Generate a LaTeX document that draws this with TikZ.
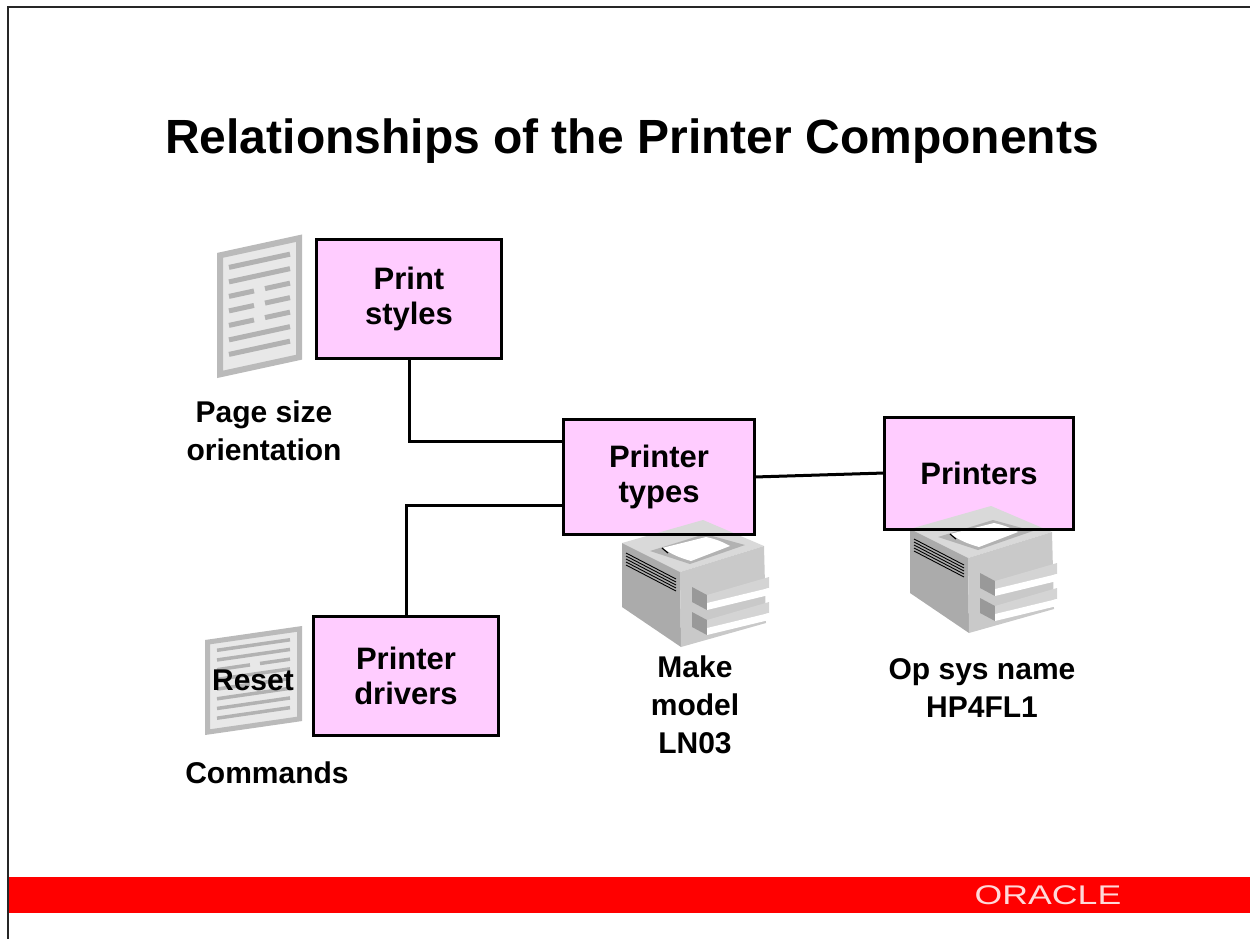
\documentclass[tikz,border=0pt]{standalone}
\usepackage{fontspec}
\setmainfont{Liberation Sans}
\usepackage{graphicx}
\usetikzlibrary{positioning}
\definecolor{boxpink}{HTML}{FFCCFF}
\definecolor{barred}{HTML}{FF0000}

% laser printer sketch, #1 = where its corner goes
\newcommand{\printersketch}[1]{%
  \begin{scope}[shift={#1}]
    \fill[black!15] (22,43) -- (103,20) -- (164,46) -- (80,72) -- cycle;
    \fill[black!33] (22,43) -- (80,72) -- (81,147) -- (22,107) -- cycle;
    \fill[black!21] (80,72) -- (164,46) -- (166,123) -- (81,147) -- cycle;
    \fill[black!30] (50,51) -- (105,34) -- (145,45) -- (90,64) -- cycle;
    \fill[white] (62,48) -- (106,37) to[bend left=8] (130,46) -- (91,61) to[bend left=8] cycle;
    \draw[line width=1.2pt] (62,48) -- (68,53);
    \foreach \k in {0,...,4}
      \draw[line width=0.9pt] (26,53+3*\k) -- (76,79+3*\k);
    \foreach \d in {0,25} {
      \fill[black!40] (92,87+\d) -- (107,95+\d) -- (107,110+\d) -- (92,102+\d) -- cycle;
      \fill[black!17] (107,95+\d) -- (169,77+\d) -- (169,88+\d) -- (107,103+\d) -- cycle;
      \fill[white] (107,103+\d) -- (169,88+\d) -- (169,95+\d) -- (107,110+\d) -- cycle;
    }
  \end{scope}}

\begin{document}
\begin{tikzpicture}[x=1pt,y=-1pt,
  comp/.style={draw=black,line width=3pt,fill=boxpink,align=center,
               minimum width=185pt,minimum height=119pt,inner sep=2pt,outer sep=0pt,
               font=\fontsize{31}{35}\selectfont\bfseries},
  link/.style={line width=3pt,black},
  lbl/.style={align=center,font=\fontsize{30}{38}\selectfont\bfseries},
  sheet/.style={draw=black!27,fill=black!9},
  sheetbar/.style={black!30}]
\useasboundingbox (0,0) rectangle (1250,939);
\draw[line width=2pt,black!85] (8,939) -- (8,7) -- (1250,7);

\node[font=\fontsize{48}{54}\selectfont\bfseries] (title) at (632,141)
  {Relationships of the Printer Components};

% the four components
\node[comp] (styles)   at (409,299) {Print\\styles};
\node[comp,minimum width=191pt,minimum height=115pt] (types) at (659,477) {Printer\\types};
\node[comp,minimum width=189pt,minimum height=112pt] (printers) at (979,473) {Printers};
\node[comp] (drivers)  at (406,676) {Printer\\drivers};

\draw[link] (styles.south) |- ([yshift=36pt]types.west);
\draw[link] (drivers.north) |- ([yshift=-28pt]types.west);
\draw[link] (types.east) -- (printers.west);

% page icons
\begin{scope}[shift={(217,253)},yslant=0.217]
  \filldraw[sheet,line width=6pt] (3,3) rectangle (82,122);
  \foreach \v in {17,31.5,89.5,104}
    \draw[sheetbar,line width=5pt] (12,\v) -- (73,\v);
  \foreach \v in {46,60.5,75} {
    \draw[sheetbar,line width=5pt] (12,\v) -- (37,\v);
    \draw[sheetbar,line width=5pt] (48,\v) -- (73,\v);}
\end{scope}
\begin{scope}[shift={(205,640)},yslant=0.144]
  \filldraw[sheet,line width=5pt] (2.5,2.5) rectangle (94.5,92.5);
  \foreach \v in {12,21.7,41.1,60.5,70.2,79.9}
    \draw[sheetbar,line width=3.5pt] (12,\v) -- (85,\v);
  \foreach \v in {31.4,50.8} {
    \draw[sheetbar,line width=3.5pt] (12,\v) -- (45,\v);
    \draw[sheetbar,line width=3.5pt] (55,\v) -- (85,\v);}
\end{scope}

% printers sit on the pink fill, under the frame of the box
\printersketch{(600,500)}
\printersketch{(888,486)}
\draw[line width=3pt] (types.south west) rectangle (types.north east);
\draw[line width=3pt] (printers.south west) rectangle (printers.north east);

\node[lbl] (pagesize) at (264,431) {Page size\\orientation};
\node[lbl] (reset)    at (253,680) {Reset};
\node[lbl] (commands) at (267,773) {Commands};
\node[lbl] (make)     at (695,705) {Make\\model\\LN03};
\node[lbl] (opsys)    at (982,688) {Op sys name\\HP4FL1};

% footer band
\fill[barred] (8,877) rectangle (1250,913);
\draw[line width=2pt,black!85] (8,870) -- (8,939);
\node[text=white!85!red,font=\fontsize{27}{27}\selectfont] (logo) at (1048,895)
  {\scalebox{1.32}[1]{ORACLE}};
\end{tikzpicture}
\end{document}
